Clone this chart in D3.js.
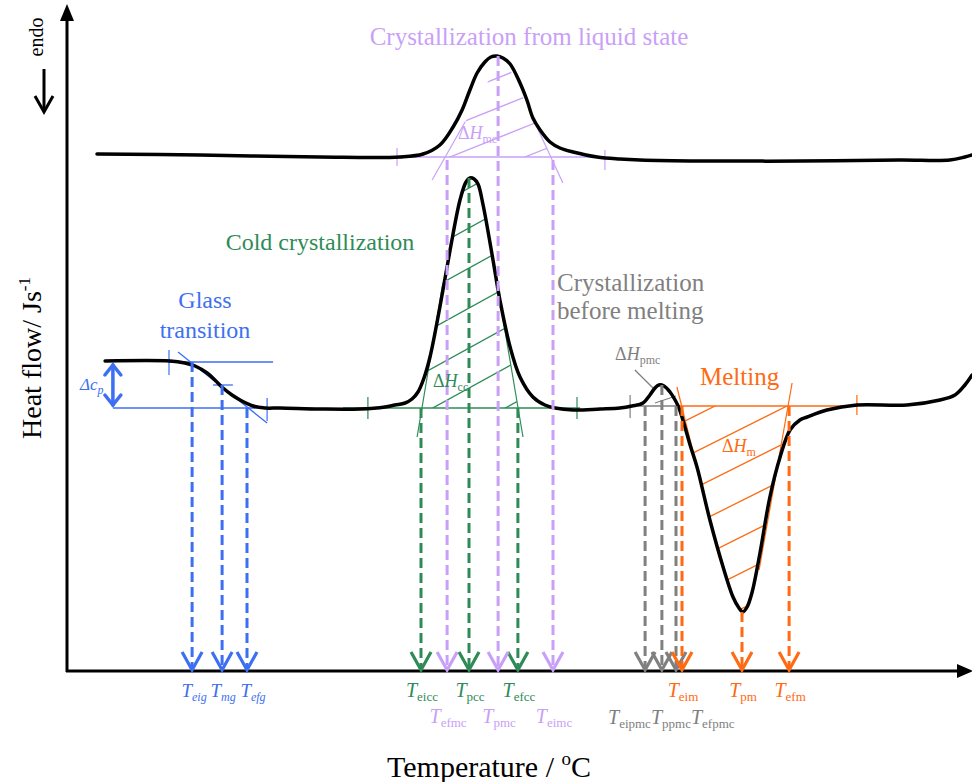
<!DOCTYPE html>
<html><head><meta charset="utf-8">
<script src="https://cdn.jsdelivr.net/npm/d3@7"></script>
<style>
body{margin:0;background:#fff}
svg{display:block}
text{font-family:"Liberation Serif","Times New Roman",serif}
</style>
</head><body>
<svg id="c" width="972" height="782"></svg>
<script>
// ---------------- DATA (temperature T, heat flow q in arbitrary units) ----------------
const upperCurve = [[10,102.8],[44.3,102.6],[84.3,102.2],[111,102.2],[118.7,102.8],[124.3,104.6],[128.7,108.2],[131.7,111.6],[134.3,115.6],[136.7,119],[139.3,121.2],[141.3,122.2],[143.3,122.4],[145.3,122],[147.7,120.8],[151,117],[153.3,113.6],[155.3,110],[157.7,107.6],[161,105.2],[164.3,104],[168.7,103.2],[176.7,102.2],[184.3,101.8],[191,101.6],[211,101.4],[244.3,101.4],[277.7,101.6],[294.3,101.6],[299.3,102.2],[301.7,102.6]];

const lowerCurve = [[12.7,61.4],[34.3,61.4],[39.3,61],[42.7,60.4],[46.7,59],[49.3,57.6],[52,56],[55,54.6],[57.7,53.6],[62,52.4],[66,52],[71,52],[84.3,51.8],[97.7,51.8],[106,52.2],[109.3,52.6],[112.7,53],[115,53.8],[117,55.2],[119,58],[121,62.2],[124.3,72.2],[127.7,83.6],[131,93.6],[133,97.2],[134.3,98],[135.7,97.8],[137,96.8],[138.7,92.6],[142,81.6],[144.3,73.6],[147.7,64.2],[151,58.2],[155.3,54.2],[159.3,52.6],[162.7,52],[168.7,51.6],[177.7,51.8],[184.3,52],[188.3,52.4],[192,53],[194.3,54.6],[196,56],[197.3,56.6],[199,56.4],[201,55.2],[202.7,53.6],[204,52],[205.3,49.6],[207.7,44.6],[210,40.2],[214.3,29.6],[218.7,20.2],[222,14.2],[224,12],[225.3,11.2],[226.7,12.2],[228.3,15],[231,23],[234.3,34.2],[237.7,42.2],[241,47.6],[244.3,49.6],[246.7,50.2],[253.3,51.6],[263.3,52.6],[280,52.6],[291,53.6],[296,54.6],[299.3,56.6],[301.7,58.6]];

// colours per transition
const colors = {glass:"#3d6ff2", cold:"#2e8b57", liquid:"#c9a0f7", pre:"#808080", melt:"#ff6a13"};

// baselines [T1, T2, q]
const baselines = [
  {c:"liquid", T1:110, T2:179.3, q:102.2},
  {c:"cold",   T1:92,  T2:171,   q:52},
  {c:"pre",    T1:187.7, T2:203.7, q:52.4},
  {c:"melt",   T1:203,  T2:263.3, q:52.4},
  {c:"glass",  T1:34,   T2:68.7, q:61.2},
  {c:"glass",  T1:15.3, T2:66.7, q:52}
];
// ticks [T, q1, q2]
const ticks = [
  {c:"liquid", T:110, q1:104, q2:100.4},
  {c:"liquid", T:179.3, q1:103.6, q2:99.6},
  {c:"cold", T:100.3, q1:54.2, q2:49.8},
  {c:"cold", T:170, q1:54.2, q2:49.8},
  {c:"pre", T:187.7, q1:54.6, q2:50},
  {c:"melt", T:263.3, q1:54.6, q2:50.6},
  {c:"glass", T:34, q1:63.6, q2:58.6},
  {c:"glass", T:66.7, q1:54, q2:49.4}
];
// other straight segments [[T,q],[T,q]]
const segments = [
  {c:"glass", p:[[37,63.2],[66.7,49]]},
  {c:"glass", p:[[48.7,56.6],[55.3,56.6]]},
  {c:"pre", p:[[191.3,52.4],[197,56.4]]},
  {c:"pre", p:[[196,53],[203,54.4]]},
  {c:"pre", p:[[189.3,59.6],[196,55.6]]}
];
// tangents and hatched areas
const peaks = [
  {id:"liq", c:"liquid", curve:"upper", base:102.2, range:[111,177],
   tanL:[[121.7,97.6],[132.7,109.2]], tanR:[[165.3,97],[154.3,111.2]], slope:-0.4, spacing:30, phase:337},
  {id:"cc", c:"cold", curve:"lower", base:52, range:[106,163],
   tanL:[[116.7,46.2],[125.3,77]], tanR:[[152,46.2],[143.3,77]], slope:-0.55, spacing:40, phase:526},
  {id:"m", c:"melt", curve:"lower", base:52.4, range:[204,264],
   tanL:[[203.3,56.2],[217.7,21.6]], tanR:[[241.7,57],[230.7,19.6]], slope:-0.5, spacing:36, phase:799.5}
];
// characteristic temperatures: dashed drop lines to the T axis
const tempMarks = [
  {c:"glass", T:41.7, q:61.2, sub:"eig", row:0},
  {c:"glass", T:51.7, q:56.6, sub:"mg", row:0},
  {c:"glass", T:60,   q:52,   sub:"efg", row:0},
  {c:"cold", T:118,   q:52,   sub:"eicc", row:0},
  {c:"cold", T:134,   q:98,   sub:"pcc", row:0},
  {c:"cold", T:150.3, q:52,   sub:"efcc", row:0},
  {c:"liquid", T:126.7, q:101.6, sub:"efmc", row:1},
  {c:"liquid", T:143.7, q:122.4, sub:"pmc", row:1},
  {c:"liquid", T:162,   q:101.6, sub:"eimc", row:1},
  {c:"pre", T:192.7, q:52.4, sub:"eipmc", row:2},
  {c:"pre", T:198.3, q:56.6, sub:"ppmc", row:2},
  {c:"pre", T:203,   q:52.4, sub:"efpmc", row:2},
  {c:"melt", T:205,   q:52.4, sub:"eim", row:0},
  {c:"melt", T:225,   q:11.2, sub:"pm", row:0},
  {c:"melt", T:240.7, q:52.4, sub:"efm", row:0}
];
// enthalpy labels [T,q]
const enthalpyLabels = [
  {c:"liquid", T:130.3, q:105.8, sub:"mc"},
  {c:"cold", T:122, q:56.2, sub:"cc"},
  {c:"pre", T:182.7, q:61.6, sub:"pmc"},
  {c:"melt", T:218.3, q:43.2, sub:"m"}
];

// ---------------- DRAWING ----------------
const svg = d3.select("#c");
const defs = svg.append("defs");
const x = d3.scaleLinear().domain([0,300]).range([67,967]);
const y = d3.scaleLinear().domain([0,130]).range([668,18]);
const line = d3.line().x(d=>x(d[0])).y(d=>y(d[1])).curve(d3.curveCatmullRom.alpha(0.5));
const straight = d3.line();
const P = d => [x(d[0]), y(d[1])];
const curves = {upper:upperCurve, lower:lowerCurve};

function intersect(a1,a2,b1,b2){
  const d=(a1[0]-a2[0])*(b1[1]-b2[1])-(a1[1]-a2[1])*(b1[0]-b2[0]);
  const t=((a1[0]-b1[0])*(b1[1]-b2[1])-(a1[1]-b1[1])*(b1[0]-b2[0]))/d;
  return [a1[0]+t*(a2[0]-a1[0]), a1[1]+t*(a2[1]-a1[1])];
}

// hatching
const gAnn = svg.append("g");
peaks.forEach(h=>{
  const col = colors[h.c];
  const L1=P(h.tanL[0]), L2=P(h.tanL[1]), R1=P(h.tanR[0]), R2=P(h.tanR[1]);
  const by=y(h.base);
  const Lb=intersect(L1,L2,[0,by],[1000,by]), Rb=intersect(R1,R2,[0,by],[1000,by]), apex=intersect(L1,L2,R1,R2);
  defs.append("clipPath").attr("id",h.id+"t").append("path").attr("d",straight([Lb,apex,Rb])+"Z");
  const sub=curves[h.curve].filter(d=>d[0]>=h.range[0]&&d[0]<=h.range[1]);
  const dA=line(sub)+`L${x(sub[sub.length-1][0])},${by}L${x(sub[0][0])},${by}Z`;
  defs.append("clipPath").attr("id",h.id+"a").append("path").attr("d",dA);
  const xs=[Lb[0],Rb[0],apex[0]], ys=[Lb[1],Rb[1],apex[1]];
  const x0=d3.min(xs)-2, x1=d3.max(xs)+2, y0=d3.min(ys), y1=d3.max(ys);
  const bs=[y0-h.slope*x0,y0-h.slope*x1,y1-h.slope*x0,y1-h.slope*x1];
  const k0=Math.floor((d3.min(bs)-h.phase)/h.spacing), k1=Math.ceil((d3.max(bs)-h.phase)/h.spacing);
  const g=gAnn.append("g").attr("clip-path",`url(#${h.id}t)`).append("g").attr("clip-path",`url(#${h.id}a)`);
  for(let k=k0;k<=k1;k++){
    const b=h.phase+k*h.spacing;
    g.append("line").attr("x1",x0).attr("y1",b+h.slope*x0).attr("x2",x1).attr("y2",b+h.slope*x1)
     .attr("stroke",col).attr("stroke-width",1.3);
  }
  [h.tanL,h.tanR].forEach(t=>{
    gAnn.append("path").attr("d",straight(t.map(P))).attr("stroke",col).attr("stroke-width",1.2).attr("fill","none");
  });
});

baselines.forEach(b=>{
  gAnn.append("line").attr("x1",x(b.T1)).attr("x2",x(b.T2)).attr("y1",y(b.q)).attr("y2",y(b.q))
    .attr("stroke",colors[b.c]).attr("stroke-width",1.3);
});
ticks.forEach(t=>{
  gAnn.append("line").attr("x1",x(t.T)).attr("x2",x(t.T)).attr("y1",y(t.q1)).attr("y2",y(t.q2))
    .attr("stroke",colors[t.c]).attr("stroke-width",1.2);
});
segments.forEach(s=>{
  gAnn.append("path").attr("d",straight(s.p.map(P))).attr("stroke",colors[s.c]).attr("stroke-width",1.3).attr("fill","none");
});

// Δcp double arrow
(function(){
  const ax=x(15.3), yt=y(61.2)+3, yb=y(52)-3, c=colors.glass;
  const g=gAnn.append("g").attr("stroke",c).attr("stroke-width",3.5).attr("fill","none").attr("stroke-linecap","round");
  g.append("line").attr("x1",ax).attr("x2",ax).attr("y1",yt).attr("y2",yb);
  g.append("path").attr("d",`M${ax-8},${yt+10}L${ax},${yt}L${ax+8},${yt+10}`);
  g.append("path").attr("d",`M${ax-8},${yb-10}L${ax},${yb}L${ax+8},${yb-10}`);
})();

// black DSC curves
svg.append("path").attr("d",line(upperCurve)).attr("fill","none").attr("stroke","#000").attr("stroke-width",3.5).attr("stroke-linecap","round");
svg.append("path").attr("d",line(lowerCurve)).attr("fill","none").attr("stroke","#000").attr("stroke-width",3.5).attr("stroke-linecap","round");

// axes
const axY = 671;
svg.append("line").attr("x1",x(0)).attr("x2",x(0)).attr("y1",axY+1).attr("y2",18).attr("stroke","#000").attr("stroke-width",3);
svg.append("path").attr("d",`M${x(0)},4L${x(0)-7},21L${x(0)+7},21Z`).attr("fill","#000");
svg.append("line").attr("x1",x(0)-1).attr("x2",960).attr("y1",axY).attr("y2",axY).attr("stroke","#000").attr("stroke-width",3);
svg.append("path").attr("d",`M973,${axY}L957,${axY-7}L957,${axY+7}Z`).attr("fill","#000");

// dashed drop lines with open arrowheads
const gD=svg.append("g");
tempMarks.forEach(m=>{
  const c=colors[m.c], px=x(m.T);
  gD.append("line").attr("x1",px).attr("x2",px).attr("y1",y(m.q)).attr("y2",axY-4)
    .attr("stroke",c).attr("stroke-width",3).attr("stroke-dasharray","10,5");
  gD.append("path").attr("d",`M${px-10},${axY-19}L${px},${axY-1}L${px+10},${axY-19}`)
    .attr("stroke",c).attr("stroke-width",3.2).attr("fill","none");
});

// temperature labels
const rowY=[697,723];
const glassShift={eig:2, mg:1, efg:6};
tempMarks.filter(m=>m.row<2).forEach(m=>{
  const isG=m.c==="glass";
  const t=svg.append("text").attr("x",x(m.T)+(isG?glassShift[m.sub]:1)).attr("y",rowY[m.row]).attr("text-anchor","middle").attr("fill",colors[m.c]);
  t.append("tspan").attr("font-style","italic").attr("font-size",isG?19:20).text("T");
  t.append("tspan").attr("font-size",isG?12:13).attr("dy",4).attr("font-style",isG?"italic":"normal").text(m.sub);
});
(function(){
  const pre=tempMarks.filter(m=>m.row===2);
  const t=svg.append("text").attr("x",608).attr("y",rowY[1]+1).attr("fill",colors.pre);
  pre.forEach((m,i)=>{
    t.append("tspan").attr("font-style","italic").attr("font-size",20).attr("dy",i?-4:0).text("T");
    t.append("tspan").attr("font-size",13).attr("dy",4).text(m.sub);
  });
})();

// enthalpy labels
enthalpyLabels.forEach(l=>{
  const t=svg.append("text").attr("x",x(l.T)).attr("y",y(l.q)).attr("fill",colors[l.c]);
  t.append("tspan").attr("font-size",18).text("Δ");
  t.append("tspan").attr("font-size",18).attr("font-style","italic").text("H");
  t.append("tspan").attr("font-size",12).attr("dy",4).text(l.sub);
});
(function(){
  const t=svg.append("text").attr("x",80).attr("y",390).attr("fill",colors.glass).attr("font-style","italic");
  t.append("tspan").attr("font-size",17).text("Δc");
  t.append("tspan").attr("font-size",12).attr("dy",4).text("p");
})();

// transition names
const names=[
  {t:"Crystallization from liquid state", c:"liquid", x:529, y:45, a:"middle", s:25},
  {t:"Glass", c:"glass", x:205, y:308, a:"middle", s:24},
  {t:"transition", c:"glass", x:205, y:338, a:"middle", s:24},
  {t:"Cold crystallization", c:"cold", x:320, y:250, a:"middle", s:24},
  {t:"Crystallization", c:"pre", x:557, y:291, a:"start", s:25},
  {t:"before melting", c:"pre", x:557, y:319, a:"start", s:25},
  {t:"Melting", c:"melt", x:700, y:385, a:"start", s:25}
];
names.forEach(n=>{
  svg.append("text").attr("x",n.x).attr("y",n.y).attr("text-anchor",n.a).attr("font-size",n.s).attr("fill",colors[n.c]).text(n.t);
});

// endo marker
svg.append("text").attr("transform","translate(43,37) rotate(-90)").attr("text-anchor","middle").attr("font-size",20).attr("fill","#000").text("endo");
svg.append("line").attr("x1",44).attr("x2",44).attr("y1",69).attr("y2",111).attr("stroke","#000").attr("stroke-width",3);
svg.append("path").attr("d","M35,96L44,112L53,96").attr("stroke","#000").attr("stroke-width",3).attr("fill","none");

// axis titles
(function(){
  const t=svg.append("text").attr("transform","translate(41,358) rotate(-90)").attr("text-anchor","middle").attr("font-size",28).attr("fill","#000");
  t.append("tspan").text("Heat flow/ Js");
  t.append("tspan").attr("font-size",17).attr("dy",-11).text("-1");
  const u=svg.append("text").attr("x",489).attr("y",777).attr("text-anchor","middle").attr("font-size",30).attr("fill","#000");
  u.append("tspan").text("Temperature / ");
  u.append("tspan").attr("font-size",19).attr("dy",-12).text("o");
  u.append("tspan").attr("dy",12).text("C");
})();
</script>
</body></html>
